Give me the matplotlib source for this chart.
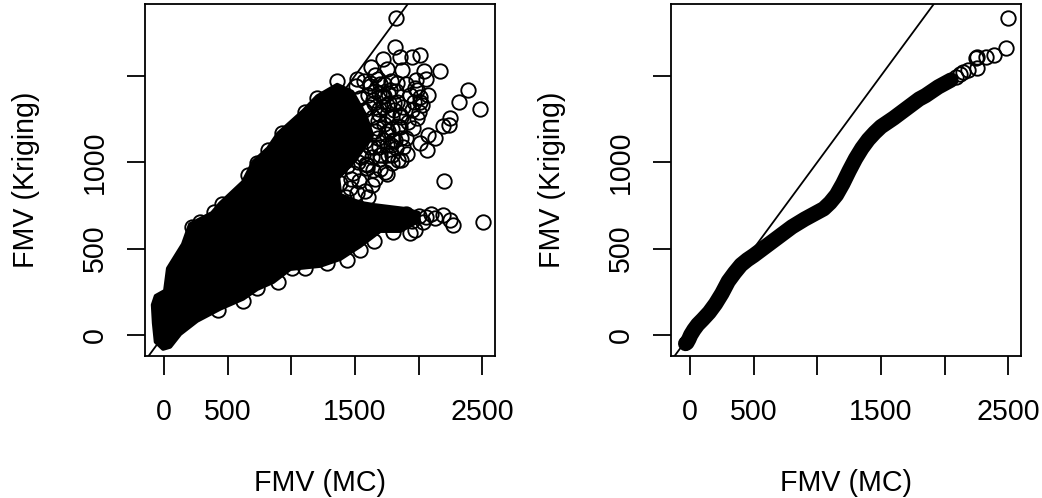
import matplotlib
matplotlib.use("Agg")
import matplotlib.pyplot as plt

plt.rcParams['font.family'] = ['Liberation Sans', 'DejaVu Sans']

W, H = 1042, 498
x_ticks = [0, 500, 1000, 1500, 2000, 2500]
x_tick_labels = ['0', '500', '', '1500', '', '2500']
y_ticks = [0, 500, 1000, 1500]
y_tick_labels = ['0', '500', '1000', '']
x_label = 'FMV (MC)'
y_label = 'FMV (Kriging)'

# Solid region of the scatter, where circles overlap completely
dense_x = [-88, -65, 8, 31, 149, 204, 377, 440, 621, 700, 818, 896, 1093, 1203, 1360, 1478,
           1580, 1635, 1502, 1368, 1384, 1541, 1659, 1879, 2000, 2000, 1855, 1698, 1541, 1384,
           1226, 991, 857, 731, 621, 440, 259, 126, 47, -8, -65, -80]
dense_y = [174, 225, 255, 385, 525, 640, 705, 760, 885, 1000, 1080, 1165, 1295, 1380, 1447, 1406,
           1273, 1157, 1013, 909, 810, 764, 750, 730, 705, 660, 602, 602, 515, 440,
           400, 382, 307, 266, 210, 152, 82, 6, -68, -80, -40, 69]

# Individually visible circles
scatter_x = [1824, 1816, 1855, 1950, 2013, 1722, 1627, 1753, 1871, 2044, 2170, 2060, 1981, 1360,
             1517, 1659, 2390, 2319, 2484, 2076, 2013, 1973, 1832, 1777, 1934, 1879, 2028, 1989,
             2249, 2193, 2241, 2076, 2131, 2013, 2068, 1910, 1903, 1958, 1855, 1793, 1816, 1793,
             1793, 1737, 1643, 1596, 1486, 2201, 2508, 2272, 2249, 2193, 2131, 2036, 1934, 1973,
             1800, 1651, 1541, 1439, 1282, 1635, 1753, 1604, 1517, 1596, 1384,
             1203, 1109, 928, 818, 731, 660, 456, 393, 283, 220, 896, 731, 621, 425, 1109, 1006,
             1700, 1730, 1690, 1810, 1850, 1900, 1760, 1680, 1720, 1650, 1950, 1990, 2010, 1920,
             1880, 1840, 1780, 1700, 1660, 1620, 1570, 1550, 1960, 2000, 1750, 1690, 1640, 1580,
             2100, 2060, 2000, 1950, 1900,
             1510, 1570, 1620, 1680, 1730, 1780, 1540, 1600, 1660, 1710, 1760, 1820,
             1610, 1650, 1720, 1770, 1830, 1640, 1690, 1750, 1810, 1860,
             1670, 1730, 1790, 1840, 1680, 1740, 1800, 1860, 1620, 1690, 1750, 1820,
             1560, 1630, 1700, 1760, 1860, 1520, 1590, 1440, 1470, 1530, 1460, 1430, 1580, 1660, 1700]
scatter_y = [1834, 1667, 1609, 1609, 1620, 1597, 1551, 1539, 1534, 1528, 1528, 1481, 1476, 1470,
             1481, 1505, 1418, 1348, 1308, 1389, 1377, 1429, 1458, 1418, 1389, 1319, 1331, 1256,
             1256, 1209, 1215, 1157, 1140, 1111, 1071, 1047, 1140, 1198, 1204, 1262, 1128, 1042,
             995, 943, 955, 984, 937, 891, 654, 637, 665, 694, 677, 654, 590, 608,
             596, 544, 492, 434, 417, 868, 932, 799, 822, 966, 880,
             1371, 1290, 1169, 1071, 995, 926, 758, 712, 654, 625, 307, 272, 197, 145, 388, 388,
             1450, 1380, 1310, 1340, 1270, 1450, 1180, 1240, 1130, 1090, 1300, 1420, 1350, 1230,
             1090, 1010, 1100, 1040, 1180, 1460, 1300, 1030, 1350, 1290, 1330, 1400, 1360, 1120,
             700, 680, 690, 660, 700,
             1440, 1470, 1440, 1480, 1450, 1470, 1370, 1390, 1410, 1380, 1400, 1410,
             1320, 1340, 1320, 1340, 1350, 1260, 1280, 1270, 1300, 1260,
             1200, 1220, 1190, 1210, 1140, 1160, 1130, 1140, 1090, 1090, 1100, 1080,
             1040, 1030, 1020, 1040, 1010, 1000, 990, 980, 900, 890, 850, 800, 830, 900, 960]

# Sorted quantile pairs, solid run
qq_x = [-35, -25, -10, 5, 30, 60, 100, 150, 200, 250, 300, 350, 400, 450, 500, 600, 700, 800, 900,
        1000, 1050, 1100, 1150, 1200, 1250, 1300, 1350, 1400, 1450, 1500, 1600, 1700, 1800, 1850,
        1900, 1950, 2000, 2050]
qq_y = [-50, -45, -25, 0, 30, 60, 90, 130, 180, 240, 310, 360, 405, 435, 460, 515, 570, 625, 670,
        710, 730, 765, 810, 875, 950, 1020, 1080, 1130, 1170, 1205, 1255, 1310, 1365, 1385,
        1410, 1435, 1455, 1475]
# Sorted quantile pairs, separate top points
qq_top_x = [2500, 2484, 2390, 2327, 2256, 2248, 2256, 2186, 2146, 2123, 2090]
qq_top_y = [1834, 1661, 1620, 1609, 1609, 1603, 1545, 1534, 1522, 1510, 1495]

fig = plt.figure(figsize=(W / 100, H / 100), dpi=100, facecolor='white')
FS = 20.6


def panel(left, right):
    ax = fig.add_axes([left / W, 1 - 356 / H, (right - left) / W, 352 / H])
    ax.set_xlim(-150, 2600)
    ax.set_ylim(-122, 1915)
    ax.set_xticks(x_ticks, x_tick_labels)
    ax.set_yticks(y_ticks, y_tick_labels)
    ax.tick_params(axis='x', length=13.7, width=1.3, labelsize=FS, pad=16.5)
    ax.tick_params(axis='y', length=13, width=1.3, labelsize=FS, pad=13)
    for label in ax.get_yticklabels():
        label.set_rotation(90)
        label.set_va('center')
    for s in ax.spines.values():
        s.set_linewidth(1.3)
    ax.set_xlabel(x_label, fontsize=FS)
    ax.set_ylabel(y_label, fontsize=FS)
    ax.xaxis.set_label_coords(0.5, -0.32)
    ax.yaxis.set_label_coords(-0.30, 0.5)
    ax.axline((0, 0), slope=1, color='black', lw=1.3, zorder=4)
    return ax


marker = dict(ls='none', marker='o', ms=10.4, mfc='none', mec='black', mew=1.35, zorder=3)

ax1 = panel(145, 495)
ax1.fill(dense_x, dense_y, facecolor='black', edgecolor='black', lw=3, joinstyle='round', zorder=2)
ax1.plot(scatter_x, scatter_y, **marker)

ax2 = panel(671, 1021)
ax2.plot(qq_x, qq_y, color='black', lw=11, solid_capstyle='round', solid_joinstyle='round', zorder=2)
ax2.plot(qq_top_x, qq_top_y, **marker)

fig.savefig('out.png', dpi=100)
